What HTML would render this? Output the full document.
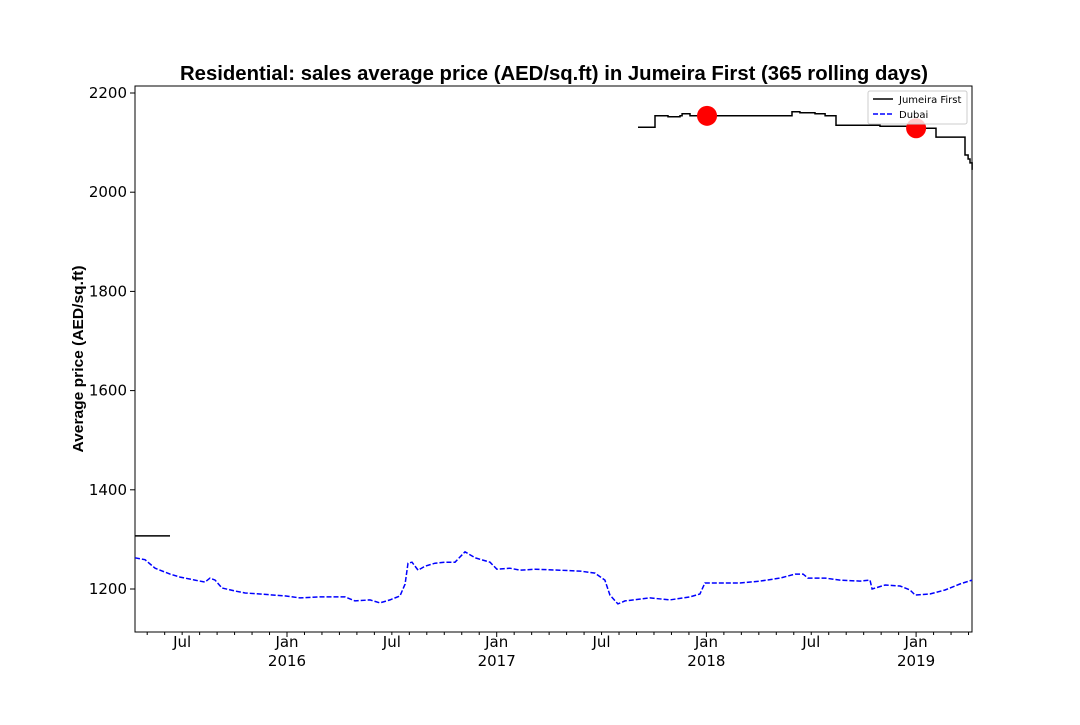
<!DOCTYPE html>
<html><head><meta charset="utf-8"><style>
body{margin:0;background:#fff;width:1080px;height:720px;overflow:hidden}
svg text{font-family:"DejaVu Sans","Liberation Sans",sans-serif;fill:#000}
svg text.lib{font-family:"Liberation Sans","DejaVu Sans",sans-serif}
</style></head><body>
<svg id="chart" width="1080" height="720" xmlns="http://www.w3.org/2000/svg">
<text class="lib" x="554" y="80" text-anchor="middle" font-size="20" font-weight="bold" textLength="748" lengthAdjust="spacingAndGlyphs">Residential: sales average price (AED/sq.ft) in Jumeira First (365 rolling days)</text>
<text class="lib" transform="translate(83,359) rotate(-90)" text-anchor="middle" font-size="14.5" font-weight="bold" textLength="187" lengthAdjust="spacingAndGlyphs">Average price (AED/sq.ft)</text>
<g id="axes"></g>
<g id="series"></g>
<g>
<rect x="868" y="91" width="99" height="33" fill="#fff" fill-opacity="0.8" stroke="#ccc" rx="2"/>
<line x1="873" y1="99" x2="893" y2="99" stroke="#000" stroke-width="1.5"/>
<text x="899" y="103" font-size="10">Jumeira First</text>
<line x1="873" y1="114" x2="893" y2="114" stroke="#00f" stroke-width="1.5" stroke-dasharray="5,2"/>
<text x="899" y="118" font-size="10">Dubai</text>
</g>
</svg>
<script>
const yTicks=[1200,1400,1600,1800,2000,2200];
const jfDates1=[2015.275,2015.442];
const jfValues1=[1307,1307];
const jfDates2=[2017.674,2017.755,2017.755,2017.817,2017.874,2017.884,2017.922,2018.399,2018.408,2018.446,2018.518,2018.566,2018.613,2018.618,2018.828,2019.042,2019.09,2019.095,2019.224,2019.233,2019.248,2019.257,2019.267];
const jfValues2=[2131,2131,2154,2152,2154,2158,2154,2154,2162,2160,2158,2154,2154,2135,2133,2129,2129,2111,2111,2075,2067,2059,2045];
const markerDates=[2018.003,2019.0];
const markerValues=[2154,2129];
const dubaiDates=[2015.275,2015.323,2015.371,2015.442,2015.490,2015.561,2015.609,2015.633,2015.657,2015.690,2015.752,2015.800,2015.871,2015.990,2016.062,2016.157,2016.277,2016.324,2016.396,2016.443,2016.491,2016.539,2016.563,2016.577,2016.596,2016.625,2016.658,2016.706,2016.753,2016.801,2016.849,2016.897,2016.968,2017.001,2017.063,2017.111,2017.183,2017.302,2017.397,2017.469,2017.516,2017.540,2017.578,2017.612,2017.731,2017.826,2017.922,2017.969,2017.993,2018.065,2018.160,2018.256,2018.351,2018.423,2018.461,2018.484,2018.566,2018.637,2018.733,2018.780,2018.790,2018.852,2018.923,2018.971,2018.995,2019.066,2019.138,2019.209,2019.267];
const dubaiValues=[1263,1259,1242,1230,1224,1218,1214,1222,1218,1202,1196,1192,1190,1186,1182,1184,1184,1176,1178,1172,1178,1186,1210,1252,1254,1238,1246,1252,1254,1254,1275,1263,1254,1240,1242,1238,1240,1238,1236,1232,1218,1188,1170,1176,1182,1178,1184,1190,1212,1212,1212,1216,1222,1230,1230,1222,1222,1218,1216,1218,1200,1208,1206,1198,1188,1190,1198,1210,1218];
const xTickLabels=[[2015.5,"Jul",""],[2016,"Jan","2016"],[2016.5,"Jul",""],[2017,"Jan","2017"],[2017.5,"Jul",""],[2018,"Jan","2018"],[2018.5,"Jul",""],[2019,"Jan","2019"]];

const L=135,R=972,T=86,B=632;
const X=d=>287+(d-2016)*209.7;
const Y=v=>589-(v-1200)*0.496;
const NS="http://www.w3.org/2000/svg";
function mk(tag,attrs,parent){const e=document.createElementNS(NS,tag);for(const k in attrs)e.setAttribute(k,attrs[k]);parent.appendChild(e);return e;}
const axes=document.getElementById('axes'),series=document.getElementById('series');
const frame=mk('rect',{x:L,y:T,width:R-L,height:B-T,fill:'none',stroke:'#000','stroke-width':1},axes);


yTicks.forEach(v=>{
  mk('line',{x1:L-5,x2:L,y1:Y(v),y2:Y(v),stroke:'#000'},axes);
  const t=mk('text',{x:L-8,y:Y(v)+5,'text-anchor':'end','font-size':15},axes);
  t.textContent=v;
  
  
});
for(let m=4;m<=52;m++){
  const d=2015+(m-1)/12;const x=X(d);if(x<L-1||x>R+1)continue;
  const major=(m-1)%12===0;
  mk('line',{x1:x,x2:x,y1:B,y2:B+(major?5:3),stroke:'#000'},axes);
}
xTickLabels.forEach(([d,a,b])=>{
  const t=mk('text',{x:X(d),y:B+15,'text-anchor':'middle','font-size':15},axes);
  t.textContent=a;
  
  
  if(b){const t2=mk('text',{x:X(d),y:B+34,'text-anchor':'middle','font-size':15},axes);t2.textContent=b;
  
  }
});
function pts(ds,vs){return ds.map((d,i)=>X(d).toFixed(1)+','+Y(vs[i]).toFixed(1)).join(' ');}
const dub=mk('polyline',{points:pts(dubaiDates,dubaiValues),fill:'none',stroke:'#00f','stroke-width':1.5,'stroke-dasharray':'5,2'},series);


const j1=mk('polyline',{points:pts(jfDates1,jfValues1),fill:'none',stroke:'#000','stroke-width':1.5},series);


let sp=[];jfDates2.forEach((d,i)=>{if(i>0)sp.push(X(d).toFixed(1)+','+Y(jfValues2[i-1]).toFixed(1));sp.push(X(d).toFixed(1)+','+Y(jfValues2[i]).toFixed(1));});
const j2=mk('polyline',{points:sp.join(' '),fill:'none',stroke:'#000','stroke-width':1.5},series);


markerDates.forEach((d,i)=>{
  const c=mk('circle',{cx:X(d),cy:Y(markerValues[i]),r:10,fill:'#f00'},series);
  
  
});
</script>
</body></html>
